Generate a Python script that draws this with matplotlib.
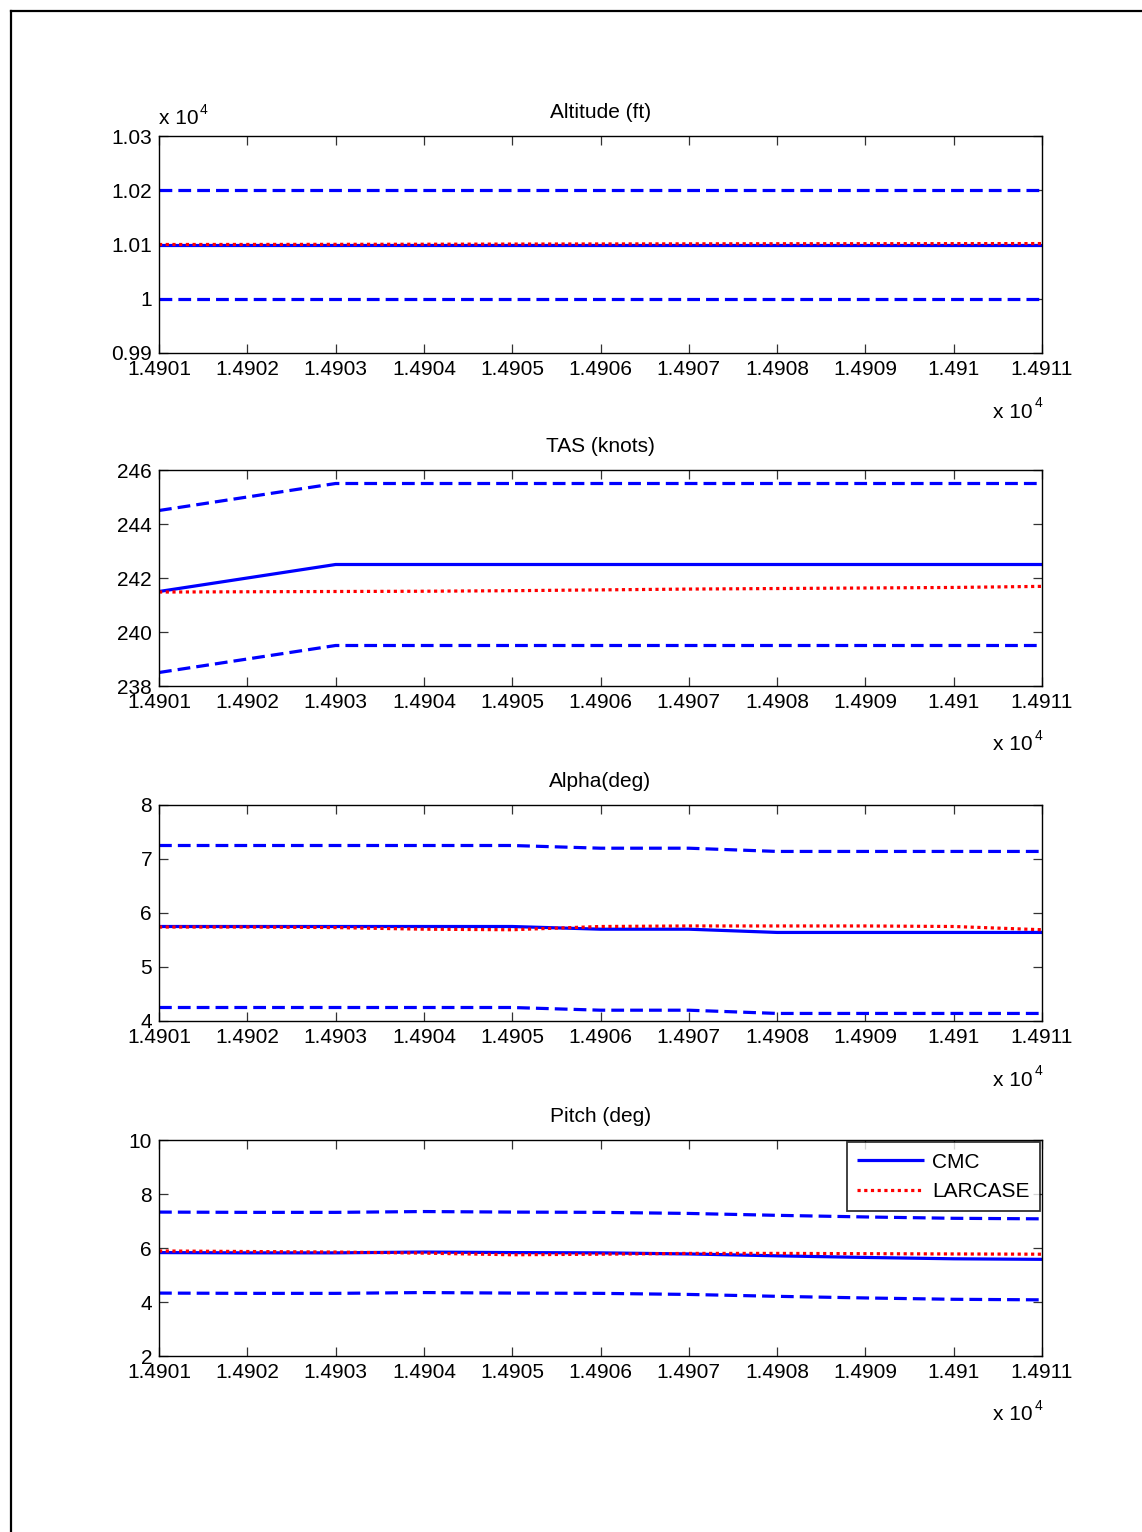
import matplotlib
matplotlib.use("Agg")
import matplotlib.pyplot as plt
from matplotlib.lines import Line2D

plt.rcParams['font.family'] = ['Liberation Sans', 'DejaVu Sans']
plt.rcParams['mathtext.default'] = 'regular'

# Time stamps (s)
time = [14901, 14902, 14903, 14904, 14905, 14906, 14907, 14908, 14909, 14910, 14911]

# Altitude (ft)
alt_cmc = [10100, 10100, 10100, 10100, 10100, 10100, 10100, 10100, 10100, 10100, 10100]
alt_larcase = [10100.0, 10100.1, 10100.3, 10100.5, 10100.8, 10101.0, 10101.2, 10101.4, 10101.5, 10101.6, 10101.7]
alt_tol = 100

# True airspeed (knots)
tas_cmc = [241.5, 242.0, 242.5, 242.5, 242.5, 242.5, 242.5, 242.5, 242.5, 242.5, 242.5]
tas_larcase = [241.48, 241.49, 241.50, 241.51, 241.53, 241.56, 241.59, 241.61, 241.63, 241.65, 241.69]
tas_tol = 3

# Angle of attack (deg)
alpha_cmc = [5.75, 5.75, 5.75, 5.75, 5.75, 5.70, 5.70, 5.64, 5.64, 5.64, 5.64]
alpha_larcase = [5.74, 5.74, 5.73, 5.70, 5.69, 5.75, 5.76, 5.76, 5.76, 5.75, 5.69]
alpha_tol = 1.5

# Pitch (deg)
pitch_cmc = [5.83, 5.82, 5.82, 5.85, 5.83, 5.82, 5.78, 5.71, 5.65, 5.60, 5.58]
pitch_larcase = [5.89, 5.87, 5.85, 5.81, 5.75, 5.77, 5.80, 5.80, 5.79, 5.78, 5.77]
pitch_tol = 1.5

x_ticks = [14901, 14902, 14903, 14904, 14905, 14906, 14907, 14908, 14909, 14910, 14911]

panels = [
    dict(title='Altitude (ft)', cmc=alt_cmc, lar=alt_larcase, tol=alt_tol,
         ylim=(9900, 10300), yticks=[9900, 10000, 10100, 10200, 10300], yscale=1e4),
    dict(title='TAS (knots)', cmc=tas_cmc, lar=tas_larcase, tol=tas_tol,
         ylim=(238, 246), yticks=[238, 240, 242, 244, 246], yscale=None),
    dict(title='Alpha(deg)', cmc=alpha_cmc, lar=alpha_larcase, tol=alpha_tol,
         ylim=(4, 8), yticks=[4, 5, 6, 7, 8], yscale=None),
    dict(title='Pitch (deg)', cmc=pitch_cmc, lar=pitch_larcase, tol=pitch_tol,
         ylim=(2, 10), yticks=[2, 4, 6, 8, 10], yscale=None),
]

W, H = 1142, 1532
fig = plt.figure(figsize=(W / 100, H / 100), dpi=100)
fig.patch.set_facecolor('white')

# Figure frame (left and top edges)
fig.add_artist(Line2D([10.5 / W, 10.5 / W], [0, 1 - 10.5 / H], transform=fig.transFigure,
                      color='black', lw=1.6))
fig.add_artist(Line2D([10.5 / W, 1], [1 - 10.5 / H, 1 - 10.5 / H], transform=fig.transFigure,
                      color='black', lw=1.6))

tops = [136, 470, 805, 1140]
bottoms = [353, 686, 1021, 1356]
left_px, right_px = 159, 1042
fs = 15
blue = (0, 0, 1)
red = (1, 0, 0)
lw = 2.3


def fmt(v, scale):
    return f"{v / scale:g}" if scale else f"{v:g}"


def exponent_label(ax, xy, offset, ha):
    """MATLAB-style 'x 10^4' multiplier with a small raised exponent."""
    base = ax.annotate('x 10', xy=xy, xycoords='axes fraction',
                       xytext=offset, textcoords='offset pixels',
                       ha=ha, va='center', fontsize=fs)
    if ha == 'right':
        base.set_position((offset[0] - 9, offset[1]))
        ax.annotate('4', xy=xy, xycoords='axes fraction',
                    xytext=(offset[0], offset[1] + 9), textcoords='offset pixels',
                    ha='right', va='center', fontsize=10)
    else:
        ax.annotate('4', xy=xy, xycoords='axes fraction',
                    xytext=(offset[0] + 41, offset[1] + 9), textcoords='offset pixels',
                    ha='left', va='center', fontsize=10)


for p, top, bot in zip(panels, tops, bottoms):
    ax = fig.add_axes([left_px / W, 1 - bot / H, (right_px - left_px) / W, (bot - top) / H])
    upper = [v + p['tol'] for v in p['cmc']]
    lower = [v - p['tol'] for v in p['cmc']]
    ax.plot(time, p['cmc'], color=blue, lw=lw, label='CMC', solid_capstyle='butt')
    ax.plot(time, p['lar'], color=red, lw=lw, linestyle=(0, (1, 1.1)), label='LARCASE')
    ax.plot(time, upper, color=blue, lw=lw, linestyle=(0, (4.0, 1.9)))
    ax.plot(time, lower, color=blue, lw=lw, linestyle=(0, (4.0, 1.9)))

    ax.set_xlim(14901, 14911)
    ax.set_ylim(*p['ylim'])
    ax.set_xticks(x_ticks)
    ax.set_xticklabels([fmt(v, 1e4) for v in x_ticks])
    ax.set_yticks(p['yticks'])
    ax.set_yticklabels([fmt(v, p['yscale']) for v in p['yticks']])
    ax.tick_params(direction='in', length=6.5, width=0.9, color='#333333',
                   top=True, right=True, labelsize=fs, pad=5)
    for s in ax.spines.values():
        s.set_linewidth(1.0)
    ax.set_title(p['title'], fontsize=fs, pad=13)

    exponent_label(ax, (1, 0), (0, -59), 'right')
    if p['yscale']:
        exponent_label(ax, (0, 1), (0, 17), 'left')

    if p['title'].startswith('Pitch'):
        leg = ax.legend(loc='upper right', fontsize=fs, frameon=True, fancybox=False,
                        handlelength=3.2, borderaxespad=0.1, borderpad=0.5,
                        labelspacing=0.5, handletextpad=0.4)
        leg.get_frame().set_edgecolor('black')
        leg.get_frame().set_linewidth(1.3)

fig.savefig('out.png', dpi=100)
